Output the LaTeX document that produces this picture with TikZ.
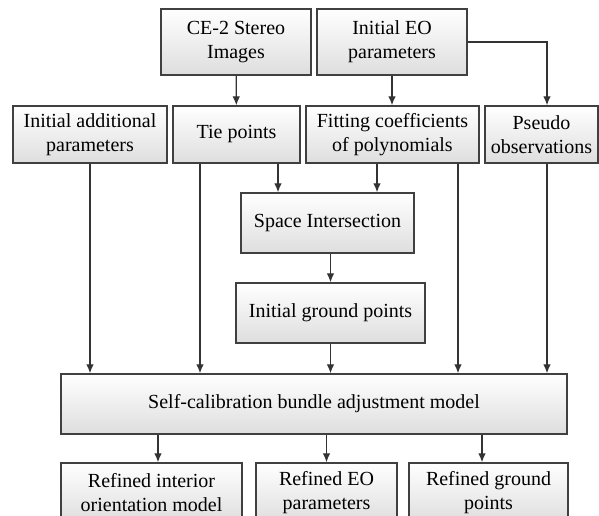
\documentclass[tikz,border=0pt]{standalone}
\usepackage{fontspec}
\setmainfont{Liberation Serif}
\usetikzlibrary{arrows.meta}

\begin{document}
\begin{tikzpicture}[%
        x=0.5pt, y=-0.5pt,
        font=\rmfamily,
        box/.style={draw=black!75, line width=0.7pt, top color=white, bottom color=black!13,
            align=center, inner sep=1pt, minimum height=30pt},
        flow/.style={draw=black!80, line width=0.65pt, ->},
        >={Latex[length=4.5pt,width=3.8pt]} % arrow tips
        ]
            \useasboundingbox (0,0) rectangle (599,515);

            % inputs
            \node[box, minimum width=75pt, minimum height=33pt] (ce2) at (236,42) {CE-2 Stereo\\Images};
            \node[box, minimum width=75pt, minimum height=33pt] (eo)  at (392,42) {Initial EO\\parameters};

            \node[box, minimum width=77pt, minimum height=28.5pt]   (addp)   at (90,134.5)    {Initial additional\\parameters};
            \node[box, minimum width=63.5pt, minimum height=28.5pt] (tie)    at (236.5,134.5) {Tie points};
            \node[box, minimum width=86.5pt, minimum height=28.5pt] (fit)    at (392.5,134.5) {Fitting coefficients\\of polynomials};
            \node[box, minimum width=56.5pt, minimum height=28.5pt] (pseudo) at (541.5,134.5) {Pseudo\\observations};

            % processing
            \node[box, minimum width=86.5pt]  (space) at (327.5,223) {Space Intersection};
            \node[box, minimum width=94.5pt]  (igp)   at (330.5,313) {Initial ground points};
            \node[box, minimum width=253pt]   (sc)    at (314,404)   {Self-calibration bundle adjustment model};

            % outputs
            \node[box, minimum width=90.5pt] (rio) at (151.5,493) {Refined interior\\orientation model};
            \node[box, minimum width=70.5pt] (reo) at (326.5,493) {Refined EO\\parameters};
            \node[box, minimum width=79.5pt] (rgp) at (488.5,493) {Refined ground\\points};

            % connections
            \draw[flow] (ce2) -- (tie);
            \draw[flow] (eo) -- (eo |- fit.north);
            \draw[flow] (eo.east) -| ([xshift=2.75pt]pseudo.north);
            \draw[flow] ([xshift=20.75pt]tie.south) -- ([xshift=20.75pt]tie.south |- space.north);
            \draw[flow] ([xshift=-7.75pt]fit.south) -- ([xshift=-7.75pt]fit.south |- space.north);
            \draw[flow] (igp.north |- space.south) -- (igp.north);

            \draw[flow] (addp.south) -- (addp.south |- sc.north);
            \draw[flow] ([xshift=-18.25pt]tie.south) -- ([xshift=-18.25pt]tie.south |- sc.north);
            \draw[flow] (igp.south) -- (igp.south |- sc.north);
            \draw[flow] ([xshift=32.75pt]fit.south) -- ([xshift=32.75pt]fit.south |- sc.north);
            \draw[flow] ([xshift=2.75pt]pseudo.south) -- ([xshift=2.75pt]pseudo.south |- sc.north);

            \draw[flow] ([xshift=3.25pt]rio.north |- sc.south) -- ([xshift=3.25pt]rio.north);
            \draw[flow] (reo.north |- sc.south) -- (reo.north);
            \draw[flow] ([xshift=-3.25pt]rgp.north |- sc.south) -- ([xshift=-3.25pt]rgp.north);
        \end{tikzpicture}
\end{document}
